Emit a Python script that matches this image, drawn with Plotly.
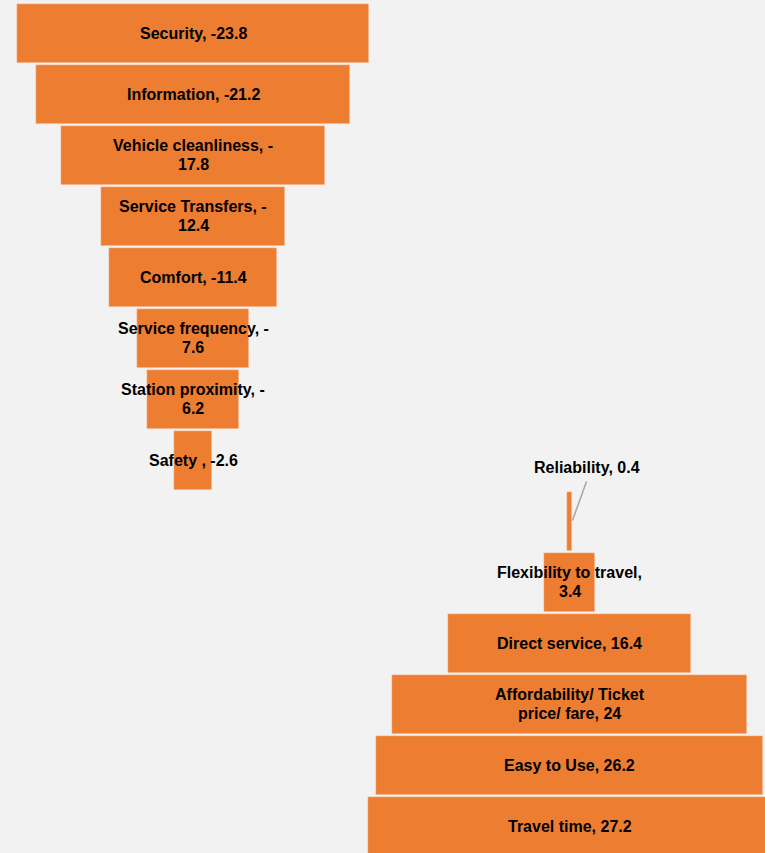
import plotly.graph_objects as go

categories = ["Security", "Information", "Vehicle cleanliness", "Service Transfers",
              "Comfort", "Service frequency", "Station proximity", "Safety ",
              "Reliability", "Flexibility to travel", "Direct service",
              "Affordability/ Ticket price/ fare", "Easy to Use", "Travel time"]
values = [-23.8, -21.2, -17.8, -12.4, -11.4, -7.6, -6.2, -2.6,
          0.4, 3.4, 16.4, 24, 26.2, 27.2]
labels = ["Security, -23.8", "Information, -21.2", "Vehicle cleanliness, -<br>17.8",
          "Service Transfers, -<br>12.4", "Comfort, -11.4", "Service frequency, -<br>7.6",
          "Station proximity, -<br>6.2", "Safety , -2.6", "Reliability, 0.4",
          "Flexibility to travel,<br>3.4", "Direct service, 16.4",
          "Affordability/ Ticket<br>price/ fare, 24", "Easy to Use, 26.2", "Travel time, 27.2"]

PX_PER_UNIT = 14.79
NEG_CENTER = 0.0
POS_CENTER = 376.5 / PX_PER_UNIT
W, H = 765, 853
x_min = -193 / PX_PER_UNIT
x_max = x_min + W / PX_PER_UNIT
ROW = 61.0
y_top = -33.5 / ROW
y_bot = y_top + H / ROW
LINE_GAP = 19.0

ys = list(range(len(categories)))
widths = [abs(v) for v in values]
centers = [NEG_CENTER if v < 0 else POS_CENTER for v in values]
bases = [c - w / 2 for c, w in zip(centers, widths)]

fig = go.Figure()
fig.add_trace(go.Bar(
    y=ys, x=widths, base=bases, orientation="h",
    width=59 / ROW,
    marker=dict(color="#ED7D31", line=dict(color="#F8E0D0", width=0.5)),
    hoverinfo="text", hovertext=[l.replace("<br>", " ") for l in labels],
))

font = dict(family="Liberation Sans, Arial, sans-serif", size=16, color="#000000")


def put_label(x, y, text, extra_shift=0.0):
    lines = text.split("<br>")
    n = len(lines)
    for k, line in enumerate(lines):
        shift = ((n - 1) / 2 - k) * LINE_GAP + extra_shift
        fig.add_annotation(x=x, y=y, text="<b>%s</b>" % line, showarrow=False,
                           font=font, xref="x", yref="y", yshift=shift)


for i, (lab, c) in enumerate(zip(labels, centers)):
    if categories[i] == "Reliability":
        continue
    put_label(c, i, lab, 0.5)

# Reliability label with leader line
ri = categories.index("Reliability")
put_label(POS_CENTER + 17.5 / PX_PER_UNIT, ri, labels[ri], 54.5)
fig.add_shape(type="line", xref="x", yref="y",
              x0=POS_CENTER + 3.0 / PX_PER_UNIT, y0=ri - 1.0 / ROW,
              x1=POS_CENTER + 17.0 / PX_PER_UNIT, y1=ri - 40.0 / ROW,
              line=dict(color="#A6A6A6", width=1.5))

fig.update_layout(
    width=W, height=H,
    margin=dict(l=0, r=0, t=0, b=0),
    paper_bgcolor="#F2F2F2", plot_bgcolor="#F2F2F2",
    showlegend=False, bargap=0,
    xaxis=dict(range=[x_min, x_max], visible=False, fixedrange=True),
    yaxis=dict(range=[y_bot, y_top], visible=False, fixedrange=True),
)
fig.write_html("out.html")
